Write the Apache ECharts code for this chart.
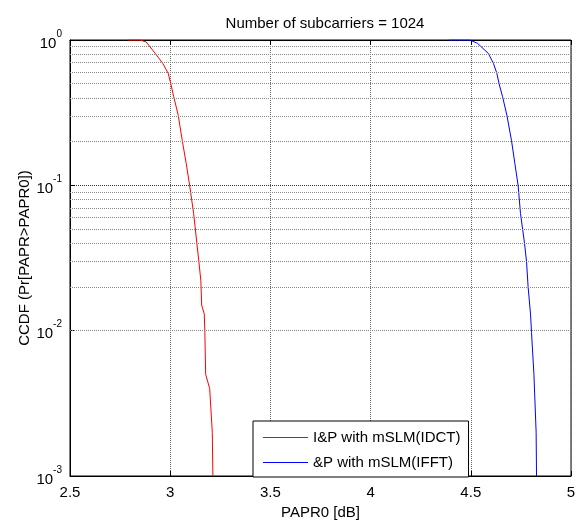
<!DOCTYPE html>
<html>
<head>
<meta charset="utf-8">
<script src="https://cdn.jsdelivr.net/npm/echarts@6/dist/echarts.min.js"></script>
<style>
  html, body { margin: 0; padding: 0; background: #fff; }
  #chart { width: 583px; height: 526px; }
</style>
</head>
<body>
<div id="chart"></div>
<script>
// 读图估计的数据
var redX = [2.79, 2.85, 2.88, 2.925, 2.963, 2.99, 3.003, 3.017, 3.04, 3.06, 3.08, 3.097,
    3.117, 3.133, 3.143, 3.153, 3.157, 3.17, 3.173, 3.177, 3.197, 3.21, 3.213];
var redY = [1, 1, 0.97, 0.81, 0.69, 0.59, 0.5, 0.41, 0.304, 0.204, 0.141, 0.1,
    0.064, 0.04, 0.03, 0.022, 0.015, 0.013, 0.0097, 0.005, 0.004, 0.002, 0.001];

var blueX = [4.39, 4.495, 4.533, 4.587, 4.613, 4.63, 4.641, 4.658, 4.68, 4.703, 4.72, 4.736,
    4.748, 4.768, 4.778, 4.786, 4.798, 4.803, 4.815, 4.826, 4.828];
var blueY = [1, 1, 0.95, 0.81, 0.69, 0.59, 0.5, 0.41, 0.304, 0.204, 0.141, 0.1,
    0.064, 0.04, 0.03, 0.02, 0.013, 0.0097, 0.005, 0.002, 0.001];

var seriesNames = ['I&P with mSLM(IDCT)', '&P with mSLM(IFFT)'];
var minorValues = [];
[0.001, 0.01, 0.1].forEach(function (d) {
    for (var k = 2; k <= 9; k++) minorValues.push(+(d * k).toPrecision(3));
});

function pairs(xs, ys) {
    return xs.map(function (x, i) { return [x, ys[i]]; });
}

var font = 'Liberation Sans, Arial, sans-serif';
var chart = echarts.init(document.getElementById('chart'));

var option = {
    animation: false,
    backgroundColor: '#fff',
    textStyle: { fontFamily: font },
    title: {
        text: 'Number of subcarriers = 1024',
        left: 320,
        textAlign: 'center',
        top: 11,
        textStyle: { fontSize: 15, fontWeight: 'normal', color: '#000', fontFamily: font }
    },
    grid: {
        left: 70, right: 12, top: 40, bottom: 50,
        show: true, borderColor: '#000', borderWidth: 1
    },
    legend: {
        orient: 'vertical',
        left: 253, top: 421,
        data: seriesNames,
        icon: 'path://M0,0H45V1H0Z',
        itemWidth: 45, itemHeight: 1,
        itemGap: 10,
        padding: [9, 8, 7, 10],
        backgroundColor: '#fff',
        borderColor: '#000', borderWidth: 1,
        textStyle: { fontSize: 15, color: '#000', fontFamily: font, lineHeight: 15 }
    },
    xAxis: [{
        type: 'value',
        min: 2.5, max: 5, interval: 0.5,
        name: 'PAPR0 [dB]',
        nameLocation: 'middle',
        nameGap: 28,
        nameTextStyle: { fontSize: 15, color: '#000' },
        axisLine: { show: true, lineStyle: { color: '#000' } },
        axisTick: { inside: true, length: 5, lineStyle: { color: '#000' } },
        axisLabel: { fontSize: 15, color: '#000', margin: 9 },
        splitLine: { show: true, lineStyle: { color: '#666', type: 'dotted', width: 1 } }
    }, {
        type: 'value',
        position: 'top',
        min: 2.5, max: 5, interval: 0.5,
        axisLine: { show: true, lineStyle: { color: '#000' } },
        axisTick: { inside: true, length: 5, lineStyle: { color: '#000' } },
        axisLabel: { show: false },
        splitLine: { show: false }
    }],
    yAxis: {
        type: 'log',
        logBase: 10,
        min: 0.001, max: 1,
        name: 'CCDF (Pr[PAPR>PAPR0])',
        nameLocation: 'middle',
        nameGap: 38,
        nameMoveOverlap: false,
        nameTextStyle: { fontSize: 15, color: '#000' },
        axisLine: { show: true, lineStyle: { color: '#000' } },
        axisTick: { inside: true, length: 5, lineStyle: { color: '#000' } },
        axisLabel: {
            margin: 8,
            formatter: function (v) {
                var e = Math.round(Math.log10(v));
                return '{b|10}{s|' + e + '}';
            },
            rich: {
                b: { fontSize: 15, color: '#000', fontFamily: font, lineHeight: 22, verticalAlign: 'bottom' },
                s: { fontSize: 10, color: '#000', fontFamily: font, lineHeight: 22, verticalAlign: 'top' }
            }
        },
        splitLine: { show: true, lineStyle: { color: '#333', type: 'dotted', width: 1 } }
    },
    series: [{
        name: seriesNames[0],
        type: 'line',
        data: pairs(redX, redY),
        symbol: 'none',
        color: '#ff0000',
        lineStyle: { color: '#ff0000', width: 1 },
        markLine: {
            silent: true,
            symbol: 'none',
            label: { show: false },
            lineStyle: { color: '#888', type: 'dotted', width: 1 },
            data: minorValues.map(function (v) { return { yAxis: v }; })
        },
        z: 3
    }, {
        name: seriesNames[1],
        type: 'line',
        data: pairs(blueX, blueY),
        symbol: 'none',
        color: '#0000ff',
        lineStyle: { color: '#0000ff', width: 1 },
        z: 3
    }]
};

chart.setOption(option);
</script>
</body>
</html>
